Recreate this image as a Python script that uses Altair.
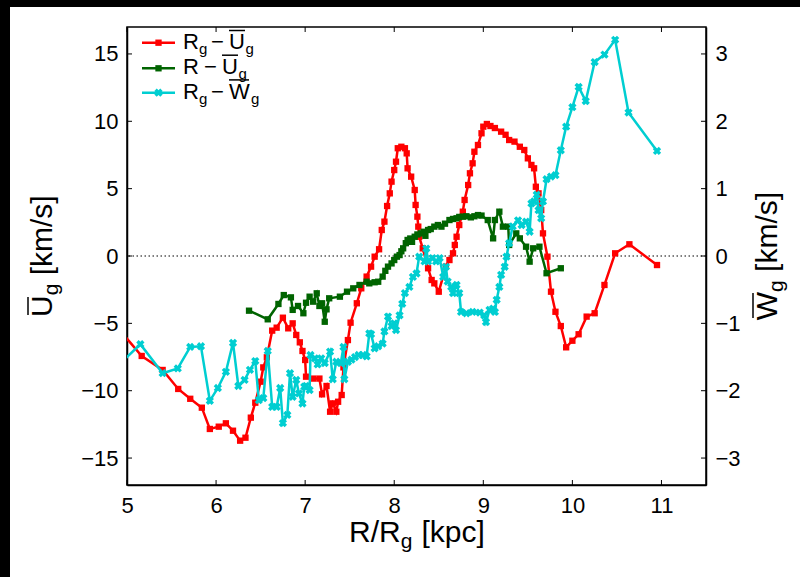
import altair as alt
import pandas as pd

FONT = "Liberation Sans"

# ---------------- data ----------------
red_r = [4.93, 5.165, 5.40, 5.575, 5.71, 5.84, 5.93, 6.03, 6.11, 6.19, 6.27, 6.33, 6.39, 6.44, 6.50,
         6.53, 6.57, 6.63, 6.68, 6.75, 6.81, 6.86, 6.90, 6.94, 6.97, 7.00, 7.01, 7.09, 7.16, 7.19,
         7.24, 7.28, 7.31, 7.35, 7.37, 7.41, 7.43, 7.48, 7.51, 7.58, 7.63, 7.69, 7.74, 7.78, 7.83,
         7.86, 7.89, 7.92, 7.95, 7.97, 8.00, 8.02, 8.04, 8.08, 8.12, 8.14, 8.15, 8.19, 8.23, 8.24,
         8.26, 8.27, 8.28, 8.32, 8.38, 8.42, 8.45, 8.50, 8.58, 8.62, 8.66, 8.68, 8.70, 8.73, 8.77,
         8.79, 8.83, 8.85, 8.88, 8.90, 8.94, 8.98, 9.00, 9.04, 9.08, 9.13, 9.20, 9.25, 9.29, 9.35,
         9.41, 9.46, 9.50, 9.54, 9.57, 9.59, 9.62, 9.65, 9.67, 9.72, 9.76, 9.81, 9.87, 9.93, 10.00,
         10.07, 10.16, 10.25, 10.36, 10.48, 10.64, 10.95]
red_u = [-5.6, -7.42, -8.46, -9.87, -10.6, -11.26, -12.84, -12.67, -12.42, -12.97, -13.71, -13.49,
         -12.0, -10.89, -9.33, -8.27, -7.52, -5.54, -5.32, -4.58, -5.37, -5.0, -5.86, -6.41, -7.05,
         -7.72, -8.96, -9.1, -9.1, -10.27, -9.65, -11.56, -10.94, -11.56, -10.82, -10.32, -8.27,
         -6.24, -4.95, -3.51, -2.40, -1.53, -0.79, -0.05, 0.5, 1.93, 2.55, 3.71, 4.65, 5.52, 6.38,
         7.0, 8.0, 8.11, 8.0, 7.62, 6.51, 5.89, 4.9, 3.79, 2.92, 2.18, 1.43, 0.57, -0.91, -1.78,
         -2.03, -2.65, -0.79, -0.3, 0.2, 0.82, 1.43, 2.3, 3.29, 4.16, 5.27, 6.14, 6.88, 7.74, 8.24,
         9.11, 9.6, 9.8, 9.65, 9.5, 9.23, 9.0, 8.61, 8.49, 8.11, 7.87, 7.25, 6.76, 6.51, 5.14, 4.65,
         3.41, 1.68, -0.05, -2.65, -4.14, -5.2, -6.78, -6.29, -5.81, -4.5, -4.25, -2.15, 0.2, 0.87,
         -0.67]

green_r = [6.37, 6.58, 6.70, 6.76, 6.84, 6.86, 6.92, 6.98, 7.01, 7.05, 7.09, 7.13, 7.16, 7.19, 7.22,
           7.24, 7.27, 7.39, 7.47, 7.54, 7.61, 7.69, 7.72, 7.78, 7.82, 7.87, 7.90, 7.93, 7.97, 8.00,
           8.03, 8.06, 8.08, 8.10, 8.13, 8.15, 8.18, 8.20, 8.23, 8.26, 8.30, 8.33, 8.35, 8.38, 8.41,
           8.45, 8.49, 8.53, 8.57, 8.62, 8.66, 8.70, 8.73, 8.77, 8.81, 8.86, 8.90, 8.94, 8.98, 9.05,
           9.11, 9.13, 9.18, 9.22, 9.28, 9.29, 9.37, 9.41, 9.48, 9.52, 9.56, 9.63, 9.71, 9.87]
green_u = [-4.06, -4.70, -3.56, -2.90, -3.07, -4.00, -3.71, -4.25, -3.47, -3.02, -3.39, -2.77, -3.71,
           -3.51, -4.88, -3.96, -3.14, -3.02, -2.65, -2.40, -2.15, -1.91, -2.03, -1.95, -1.91, -1.53,
           -1.10, -0.79, -0.55, -0.30, -0.05, 0.07, 0.35, 0.57, 0.95, 1.19, 1.30, 1.05, 1.43, 1.60,
           1.68, 1.80, 1.50, 1.93, 2.00, 2.18, 2.30, 2.18, 2.40, 2.67, 2.75, 2.80, 2.90, 2.92, 2.95,
           2.87, 2.95, 3.04, 3.00, 2.67, 1.31, 2.67, 3.29, 2.18, 2.18, 0.82, 1.68, 1.31, 0.69, -0.42,
           0.57, 0.69, -1.28, -0.91]

cyan_r = [4.93, 5.15, 5.40, 5.57, 5.71, 5.83, 5.93, 6.02, 6.11, 6.19, 6.25, 6.32, 6.38, 6.44, 6.48,
          6.53, 6.58, 6.63, 6.68, 6.72, 6.75, 6.80, 6.83, 6.86, 6.90, 6.93, 6.97, 6.99, 7.01, 7.05,
          7.06, 7.11, 7.14, 7.18, 7.22, 7.28, 7.31, 7.35, 7.40, 7.43, 7.44, 7.48, 7.52, 7.56, 7.60,
          7.65, 7.69, 7.72, 7.74, 7.78, 7.82, 7.87, 7.89, 7.93, 7.97, 8.00, 8.02, 8.06, 8.09, 8.12,
          8.17, 8.21, 8.25, 8.28, 8.34, 8.36, 8.38, 8.43, 8.47, 8.51, 8.55, 8.58, 8.60, 8.64, 8.66,
          8.70, 8.73, 8.75, 8.81, 8.88, 8.96, 9.01, 9.03, 9.07, 9.11, 9.13, 9.15, 9.18, 9.20, 9.24,
          9.26, 9.29, 9.33, 9.39, 9.43, 9.48, 9.52, 9.54, 9.57, 9.60, 9.62, 9.65, 9.67, 9.71, 9.76,
          9.81, 9.87, 9.93, 10.00, 10.07, 10.15, 10.25, 10.36, 10.48, 10.63, 10.95]
cyan_w = [-1.59, -1.31, -1.74, -1.67, -1.35, -1.34, -2.15, -1.96, -1.72, -1.29, -1.93, -1.84, -1.69,
          -1.56, -2.14, -2.11, -1.41, -2.24, -2.24, -1.96, -2.48, -2.36, -1.74, -2.09, -1.84, -2.04,
          -2.19, -1.94, -1.93, -1.99, -1.47, -1.52, -1.61, -1.52, -1.59, -1.42, -1.83, -1.57, -1.59,
          -1.35, -1.83, -1.57, -1.54, -1.50, -1.47, -1.47, -1.49, -1.15, -1.16, -1.37, -1.34, -1.30,
          -1.12, -0.90, -1.04, -1.00, -1.10, -0.88, -0.71, -0.55, -0.46, -0.31, -0.26, -0.01, -0.08,
          0.11, -0.08, -0.03, -0.08, -0.03, -0.31, -0.16, -0.38, -0.46, -0.55, -0.43, -0.55, -0.83,
          -0.85, -0.83, -0.84, -0.88, -0.98, -0.80, -0.78, -0.83, -0.65, -0.46, -0.28, -0.16, -0.01,
          0.19, 0.44, 0.53, 0.46, 0.51, 0.36, 0.78, 0.81, 0.91, 0.68, 0.56, 0.81, 1.14, 1.18, 1.20,
          1.57, 1.92, 2.21, 2.51, 2.30, 2.88, 2.99, 3.21, 2.13, 1.56]

x_ticks = [5, 6, 7, 8, 9, 10, 11]
u_ticks = [-15, -10, -5, 0, 5, 10, 15]
w_ticks = [-3, -2, -1, 0, 1, 2, 3]

X_DOMAIN = [5, 11.5]
U_DOMAIN = [-17, 17]
W_DOMAIN = [-3.4, 3.4]

RED, GREEN, CYAN = "#ff0000", "#006400", "#00ced1"

# ---------------- layout ----------------
W, H = 579, 458
PAD = {"left": 127, "top": 27, "right": 94, "bottom": 92}

xs = alt.Scale(domain=X_DOMAIN, nice=False, zero=False)
us = alt.Scale(domain=U_DOMAIN, nice=False, zero=False)
ws = alt.Scale(domain=W_DOMAIN, nice=False, zero=False)

red_df = pd.DataFrame({"r": red_r, "v": red_u})
green_df = pd.DataFrame({"r": green_r, "v": green_u})
cyan_df = pd.DataFrame({"r": cyan_r, "v": cyan_w})
one = pd.DataFrame({"a": [0]})

common_axis = dict(title=None, labelFontSize=22, ticks=False, grid=False, labelFlush=False,
                   labelOverlap=False)
x_axis = alt.Axis(values=x_ticks, labelPadding=10, orient="bottom", **common_axis)
left_axis = alt.Axis(values=u_ticks, labelPadding=9, orient="left", **common_axis)
right_axis = alt.Axis(values=w_ticks, labelPadding=9, orient="right", **common_axis)


def X(field):
    return alt.X(field, type="quantitative", scale=xs, axis=x_axis)


def YU(field):
    return alt.Y(field, type="quantitative", scale=us, axis=left_axis)


def YW(field):
    return alt.Y(field, type="quantitative", scale=ws, axis=right_axis)


sq = dict(shape="square", size=40, filled=True, opacity=1)
xm = dict(shape="cross", angle=45, size=70, filled=True, opacity=1)

red = alt.Chart(red_df).mark_line(
    color=RED, strokeWidth=2.5, clip=True,
    point=alt.OverlayMarkDef(color=RED, clip=True, **sq),
).encode(x=X("r"), y=YU("v"))

green = alt.Chart(green_df).mark_line(
    color=GREEN, strokeWidth=2.5, clip=True,
    point=alt.OverlayMarkDef(color=GREEN, clip=True, **sq),
).encode(x=X("r"), y=YU("v"))

cyan = alt.Chart(cyan_df).mark_line(
    color=CYAN, strokeWidth=2.5, clip=True,
    point=alt.OverlayMarkDef(color=CYAN, clip=True, **xm),
).encode(x=X("r"), y=YW("v"))

zero = alt.Chart(pd.DataFrame({"z": [0]})).mark_rule(
    color="black", strokeWidth=1, strokeDash=[1.5, 2.5]
).encode(y=YU("z"))

# inward ticks (matplotlib style)
tx = pd.DataFrame({"t": x_ticks})
tu = pd.DataFrame({"t": u_ticks})
tw = pd.DataFrame({"t": w_ticks})
TL = 5
tick_bottom = alt.Chart(tx).mark_rule(color="black").encode(
    x=X("t"), y=alt.value(H), y2=alt.value(H - TL))
tick_top = alt.Chart(tx).mark_rule(color="black").encode(
    x=X("t"), y=alt.value(0), y2=alt.value(TL))
tick_left = alt.Chart(tu).mark_rule(color="black").encode(
    y=YU("t"), x=alt.value(0), x2=alt.value(TL))
tick_right = alt.Chart(tw).mark_rule(color="black").encode(
    y=YW("t"), x=alt.value(W), x2=alt.value(W - TL))


def txt(s, px, py, fs, ang=0):
    return alt.Chart(one).mark_text(
        text=s, align="left", baseline="alphabetic", font=FONT, fontSize=fs,
        angle=ang, color="black",
    ).encode(x=alt.value(px), y=alt.value(py))


def seg(x1, y1, x2, y2, color="black", w=1.5):
    return alt.Chart(one).mark_rule(color=color, strokeWidth=w).encode(
        x=alt.value(x1), x2=alt.value(x2), y=alt.value(y1), y2=alt.value(y2))


def rect(x1, y1, x2, y2):
    return alt.Chart(one).mark_rect(color="black").encode(
        x=alt.value(x1), x2=alt.value(x2), y=alt.value(y1), y2=alt.value(y2))


MINUS = "\u2212"
annot = []

# legend
LF, LS = 22, 15
rows = [(15.7, RED, sq), (41.3, GREEN, sq), (65.7, CYAN, xm)]
for ly, col, mk in rows:
    annot.append(seg(15, ly, 48, ly, col, 2.5))
    annot.append(alt.Chart(one).mark_point(color=col, **mk).encode(
        x=alt.value(31.5), y=alt.value(ly)))
# row 1: R_g - U_g
annot += [txt("R", 56, 22.3, LF), txt("g", 72, 27.3, LS), txt(MINUS, 84, 22.3, LF),
          txt("U", 102, 22.3, LF), seg(102, 3.5, 118, 3.5), txt("g", 118.5, 27.3, LS)]
# row 2: R - U_g
annot += [txt("R", 56, 47.0, LF), txt(MINUS, 77, 47.0, LF),
          txt("U", 95, 47.0, LF), seg(95, 28.2, 111, 28.2), txt("g", 111.5, 52.0, LS)]
# row 3: R_g - W_g
annot += [txt("R", 56, 71.7, LF), txt("g", 72, 76.7, LS), txt(MINUS, 84, 71.7, LF),
          txt("W", 102, 71.7, LF), seg(102, 52.9, 122, 52.9), txt("g", 124, 76.7, LS)]

# x-axis title: R/R_g [kpc]
TF, TS = 30, 21
annot += [txt("R/R", 222, 515, TF), txt("g", 273.7, 521, TS), txt("[kpc]", 294.5, 515, TF)]
# left title: U_g [km/s]  (reads bottom to top)
annot += [txt("U", -75, 290, TF, 270), seg(-99, 288, -99, 270), txt("g", -69, 268.3, TS, 270),
          txt("[km/s]", -75, 248.3, TF, 270)]
# right title: W_g [km/s]
annot += [txt("W", 650, 293.2, TF, 270), seg(626, 291, 626, 266), txt("g", 656, 264.9, TS, 270),
          txt("[km/s]", 650, 244.9, TF, 270)]

# dark frame strips of the original image
annot += [rect(-PAD["left"], -PAD["top"], -PAD["left"] + 10, H + PAD["bottom"]),
          rect(-PAD["left"], -PAD["top"], W + PAD["right"], -PAD["top"] + 7)]

left = alt.layer(zero, red, green, tick_bottom, tick_top, tick_left, *annot)
right = alt.layer(cyan, tick_right)

chart = alt.layer(left, right).resolve_scale(y="independent").properties(
    width=W, height=H, padding=PAD, autosize=alt.AutoSizeParams(type="none"),
    background="white",
).configure_view(stroke="black", strokeWidth=1.5).configure_axis(
    labelFont=FONT, labelColor="black", domainColor="black", domainWidth=1.5,
)

chart.save("out.html", embed_options={"renderer": "svg", "actions": False})
